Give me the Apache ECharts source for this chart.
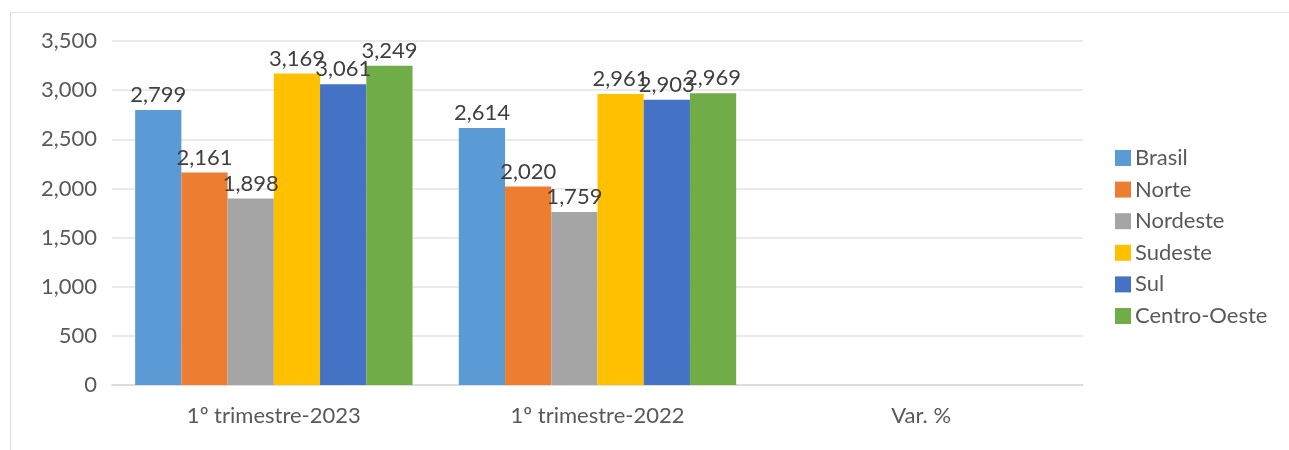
<!DOCTYPE html>
<html><head><meta charset="utf-8">
<script src="https://cdn.jsdelivr.net/npm/echarts@6/dist/echarts.min.js"></script>
<style>html,body{margin:0;padding:0;background:#fff}#c{width:1289px;height:450px}</style>
</head><body><div id="c"></div>
<script>
const categories = ['1º trimestre-2023', '1º trimestre-2022', 'Var. %'];
const seriesNames = ['Brasil', 'Norte', 'Nordeste', 'Sudeste', 'Sul', 'Centro-Oeste'];
const brasil = [2799, 2614, null];
const norte = [2161, 2020, null];
const nordeste = [1898, 1759, null];
const sudeste = [3169, 2961, null];
const sul = [3061, 2903, null];
const centroOeste = [3249, 2969, null];
const yTicks = [0, 500, 1000, 1500, 2000, 2500, 3000, 3500];
const colors = ['#5B9BD5', '#ED7D31', '#A5A5A5', '#FFC000', '#4472C4', '#70AD47'];
const values = [brasil, norte, nordeste, sudeste, sul, centroOeste];
const FONT = 'Lato, "Liberation Sans", sans-serif';
const fmt = v => v.toLocaleString('en-US');

const chart = echarts.init(document.getElementById('c'));
chart.setOption({
  animation: false,
  textStyle: { fontFamily: FONT },
  graphic: [
    { type: 'line', shape: { x1: 10.5, y1: 12, x2: 10.5, y2: 450 }, style: { stroke: '#d9d9d9', lineWidth: 1 } },
    { type: 'line', shape: { x1: 10, y1: 12.5, x2: 1289, y2: 12.5 }, style: { stroke: '#e6e6e6', lineWidth: 1 } }
  ],
  grid: { left: 112, right: 206, top: 41, bottom: 65 },
  legend: {
    orient: 'vertical', left: 1110, top: 142, itemWidth: 16, itemHeight: 16, itemGap: 9.6,
    icon: 'rect', data: seriesNames,
    textStyle: { fontSize: 22, lineHeight: 22, color: '#595959', fontFamily: FONT, padding: [0, 0, 0, -1] }
  },
  xAxis: {
    type: 'category', data: categories,
    axisLine: { lineStyle: { color: '#d9d9d9', width: 1.5 } },
    axisTick: { show: false },
    axisLabel: { fontSize: 22, color: '#595959', margin: 20, fontFamily: FONT }
  },
  yAxis: {
    type: 'value', min: 0, max: 3500, interval: 500,
    axisLine: { show: false }, axisTick: { show: false },
    splitLine: { lineStyle: { color: '#e3e3e3', width: 1.5 } },
    axisLabel: { fontSize: 22, color: '#595959', margin: 15, fontFamily: FONT,
      formatter: v => yTicks.includes(v) ? fmt(v) : '' }
  },
  series: seriesNames.map((n, i) => ({
    name: n, type: 'bar', data: values[i],
    itemStyle: { color: colors[i] },
    barGap: '0%', barCategoryGap: '14.3%',
    label: { show: true, position: 'top', distance: 4, fontSize: 22, color: '#404040', fontFamily: FONT,
      formatter: p => p.value == null ? '' : fmt(p.value) }
  }))
});
</script></body></html>
